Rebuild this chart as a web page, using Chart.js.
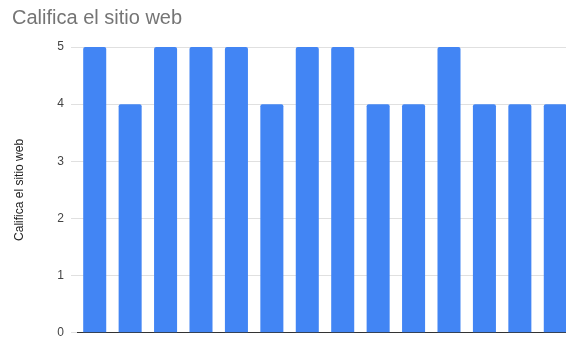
<!DOCTYPE html>
<html lang="es">
<head>
<meta charset="UTF-8">
<title>Califica el sitio web</title>
<script src="https://cdn.jsdelivr.net/npm/chart.js@4"></script>
<style>
  html, body { margin: 0; padding: 0; background: #fff; overflow: hidden; }
  #wrap { width: 566px; height: 337px; overflow: hidden; }
</style>
</head>
<body>
<div id="wrap">
  <canvas id="chart" width="573" height="347"></canvas>
</div>
<script>
// respuestas, una barra por persona
const respuestas = ['1', '2', '3', '4', '5', '6', '7', '8', '9', '10', '11', '12', '13', '14'];
const calificaciones = [5, 4, 5, 5, 5, 4, 5, 5, 4, 4, 5, 4, 4, 4];
const ticksY = [0, 1, 2, 3, 4, 5];

const fontFamily = 'Arial, "Liberation Sans", sans-serif';

new Chart(document.getElementById('chart'), {
  type: 'bar',
  data: {
    labels: respuestas,
    datasets: [{
      label: 'Califica el sitio web',
      data: calificaciones,
      backgroundColor: '#4285f4',
      borderRadius: 2,
      borderSkipped: 'bottom',
      categoryPercentage: 1,
      barPercentage: 0.65
    }]
  },
  options: {
    responsive: false,
    animation: false,
    layout: { padding: { left: 12, right: 0, top: 0, bottom: 5 } },
    plugins: {
      legend: { display: false },
      tooltip: { enabled: false },
      title: {
        display: true,
        text: 'Califica el sitio web',
        align: 'start',
        color: '#757575',
        font: { family: fontFamily, size: 20, weight: 'normal' },
        padding: { top: 6, bottom: 17 }
      }
    },
    scales: {
      x: {
        afterFit: (scale) => { scale.height = 0; },
        grid: { display: false },
        ticks: { display: false },
        border: { display: true, color: '#333333', width: 1 }
      },
      y: {
        min: 0,
        max: 5,
        afterBuildTicks: (scale) => { scale.ticks = ticksY.map(v => ({ value: v })); },
        afterFit: (scale) => { scale.width = 65; },
        border: { display: false },
        grid: { color: '#e0e0e0', lineWidth: 1, tickLength: 6, drawTicks: true },
        ticks: {
          color: '#444444',
          padding: 7,
          font: { family: fontFamily, size: 12 }
        },
        title: {
          display: true,
          text: 'Califica el sitio web',
          color: '#222222',
          font: { family: fontFamily, size: 12 },
          padding: { top: 0, bottom: 0 }
        }
      }
    }
  }
});
</script>
</body>
</html>
